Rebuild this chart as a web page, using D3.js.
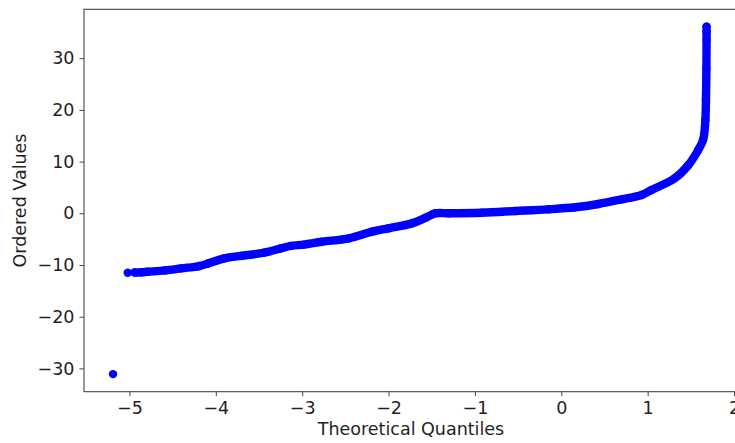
<!DOCTYPE html>
<html>
<head>
<meta charset="utf-8">
<script src="https://cdn.jsdelivr.net/npm/d3@7"></script>
<style>
  html, body { margin: 0; padding: 0; background: #fff; }
  svg { display: block; }
  text { font-family: "DejaVu Sans", sans-serif; fill: #1f1f1f; }
</style>
</head>
<body>
<svg id="chart" width="735" height="443"></svg>
<script>
// Theoretical quantiles (x) and ordered values (y)
const quantiles = [
  -5.19, -5.02, -4.94, -4.86, -4.79, -4.59, -4.40, -4.19, -4.09, -3.90,
  -3.71, -3.44, -3.25, -3.13, -2.98, -2.77, -2.46, -2.19, -2.00, -1.73,
  -1.57, -1.46, -1.30, -0.92, -0.53, -0.15, 0.16, 0.43, 0.70, 0.93,
  1.045, 1.315, 1.47, 1.584, 1.642, 1.668, 1.675, 1.68, 1.682, 1.682, 1.682
];
const orderedValues = [
  -31.1, -11.5, -11.45, -11.4, -11.3, -11.05, -10.65, -10.2, -9.7, -8.7,
  -8.25, -7.6, -6.8, -6.3, -6.05, -5.5, -4.85, -3.55, -2.9, -1.95,
  -0.85, 0.0, 0.0, 0.12, 0.44, 0.77, 1.16, 1.8, 2.7, 3.55,
  4.5, 6.8, 9.3, 12.2, 14.2, 18.0, 22.0, 28.0, 33.5, 35.1, 36.1
];
const xTicks = [-5, -4, -3, -2, -1, 0, 1, 2];
const yTicks = [-30, -20, -10, 0, 10, 20, 30];
const xLabel = "Theoretical Quantiles";
const yLabel = "Ordered Values";

const points = quantiles.map((q, i) => ({ q, v: orderedValues[i] }));

const margin = { left: 84, top: 9.3, right: 738, bottom: 391.7 };
const svg = d3.select("#chart");

const x = d3.scaleLinear().domain([-5.526, 2.046]).range([margin.left, margin.right]);
const y = d3.scaleLinear().domain([-34.5, 39.45]).range([margin.bottom, margin.top]);

const fontSize = 17.5;
const minus = s => String(s).replace("-", "\u2212");

// x axis
const xAxis = svg.append("g")
  .attr("transform", `translate(0,${margin.bottom})`)
  .call(d3.axisBottom(x).tickValues(xTicks).tickSize(4.5).tickPadding(5).tickFormat(minus));
xAxis.select(".domain").remove();
xAxis.selectAll("line").attr("stroke", "#444");
xAxis.selectAll("text").attr("font-size", fontSize).attr("fill", "#1f1f1f")
  .style("font-family", "DejaVu Sans, sans-serif");

// y axis
const yAxis = svg.append("g")
  .attr("transform", `translate(${margin.left},0)`)
  .call(d3.axisLeft(y).tickValues(yTicks).tickSize(4.5).tickPadding(5).tickFormat(minus));
yAxis.select(".domain").remove();
yAxis.selectAll("line").attr("stroke", "#444");
yAxis.selectAll("text").attr("font-size", fontSize).attr("fill", "#1f1f1f")
  .style("font-family", "DejaVu Sans, sans-serif");

// frame
svg.append("rect")
  .attr("x", margin.left).attr("y", margin.top)
  .attr("width", margin.right - margin.left).attr("height", margin.bottom - margin.top)
  .attr("fill", "none").attr("stroke", "#444").attr("stroke-width", 1.1);

// dense band of points (drawn as a thick smooth path through the read points)
svg.append("clipPath").attr("id", "clip")
  .append("rect").attr("x", margin.left).attr("y", margin.top)
  .attr("width", margin.right - margin.left).attr("height", margin.bottom - margin.top);

const g = svg.append("g").attr("clip-path", "url(#clip)");
const line = d3.line().x(d => x(d.q)).y(d => y(d.v)).curve(d3.curveCatmullRom.alpha(0.5));
g.append("path")
  .datum(points.slice(2))
  .attr("d", line)
  .attr("fill", "none")
  .attr("stroke", "#0000ff")
  .attr("stroke-width", 8.4)
  .attr("stroke-linecap", "round")
  .attr("stroke-linejoin", "round");

g.selectAll("circle")
  .data(points)
  .join("circle")
  .attr("cx", d => x(d.q))
  .attr("cy", d => y(d.v))
  .attr("r", 4.2)
  .attr("fill", "#0000ff");

// axis titles
svg.append("text")
  .attr("x", (margin.left + margin.right) / 2)
  .attr("y", 435)
  .attr("text-anchor", "middle")
  .attr("font-size", fontSize)
  .text(xLabel);

svg.append("text")
  .attr("transform", `translate(26,${(margin.top + margin.bottom) / 2}) rotate(-90)`)
  .attr("text-anchor", "middle")
  .attr("font-size", fontSize)
  .text(yLabel);
</script>
</body>
</html>
